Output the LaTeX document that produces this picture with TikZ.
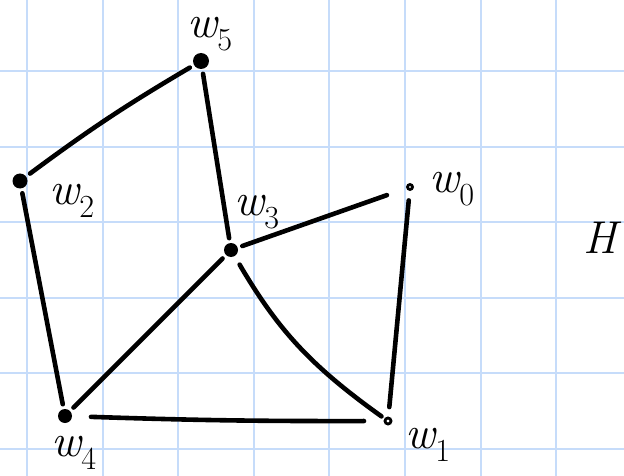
\documentclass[tikz,border=0pt]{standalone}
\usepackage{fontspec}
\definecolor{gridblue}{RGB}{198,220,250}
\tikzset{
  dot/.style={circle,fill=black,inner sep=0pt,minimum size=16pt,outer sep=5pt},
  ring/.style={circle,draw=black,fill=white,line width=2.8pt,inner sep=0pt,minimum size=6pt,outer sep=11pt},
  edge/.style={line width=4.6pt,line cap=round},
  lbl/.style={font=\fontsize{46}{46}\selectfont\itshape,inner sep=0pt}
}
\newcommand{\wlab}[1]{w\textsubscript{\upshape #1}}
\begin{document}
\begin{tikzpicture}[x=1pt,y=-1pt]
  \useasboundingbox (0,0) rectangle (624,476);
  % grid paper
  \begin{scope}
    \clip (0,0) rectangle (624,476);
    \fill[white] (0,0) rectangle (624,476);
    \foreach \k in {0,...,7}
      \draw[gridblue,line width=2pt] ({27+75.6*\k},0) -- ({27+75.6*\k},476);
    \foreach \k in {0,...,5}
      \draw[gridblue,line width=2pt] (0,{71+75.6*\k}) -- (624,{71+75.6*\k});
  \end{scope}

  % vertices
  \node[dot] (w5) at (201,61) {};
  \node[dot,minimum size=15pt] (w2) at (20,181) {};
  \node[dot,minimum size=14pt] (w3) at (231,250) {};
  \node[dot,minimum size=14pt] (w4) at (65,416) {};
  \node[ring,minimum size=5pt] (w0) at (410,187) {};
  \node[ring] (w1) at (388,421) {};

  % labels
  \node[lbl] (l5) at (210,34) {\wlab{5}};
  \node[lbl] (l2) at (72,201) {\wlab{2}};
  \node[lbl] (l3) at (257,212) {\wlab{3}};
  \node[lbl] (l0) at (452,189) {\wlab{0}};
  \node[lbl] (l1) at (428,445) {\wlab{1}};
  \node[lbl] (l4) at (74,453) {\wlab{4}};
  \node[lbl] (lH) at (600,238) {H};

  % edges
  \draw[edge] (w5) to[bend right=3] (w2);
  \draw[edge] (w5) -- (w3);
  \draw[edge] (w2) -- (w4);
  \draw[edge,shorten >=11pt] (w3) -- (w0);
  \draw[edge] (w3) -- (w4);
  \draw[edge,shorten <=5pt,shorten >=-6pt] (w3) to[bend right=12] (w1);
  \draw[edge] (w0) -- (w1);
  \draw[edge,shorten <=14pt,shorten >=10pt] (w4) to[bend right=1] (w1);
\end{tikzpicture}
\end{document}
